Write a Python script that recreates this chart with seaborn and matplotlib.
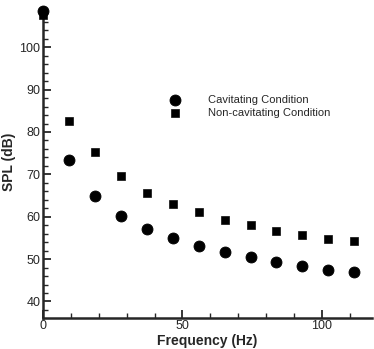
import pandas as pd
import matplotlib.pyplot as plt
import seaborn as sns
from matplotlib.ticker import MultipleLocator

freq = [0, 9.3, 18.6, 27.9, 37.2, 46.5, 55.8, 65.1, 74.4, 83.7, 93.0, 102.3, 111.6]
spl_cav = [108.5, 73.3, 64.8, 60.1, 57.1, 55.0, 53.2, 51.7, 50.6, 49.4, 48.3, 47.5, 46.9]
spl_noncav = [107.5, 82.5, 75.2, 69.5, 65.7, 63.0, 61.1, 59.3, 58.0, 56.7, 55.6, 54.7, 54.2]

df_cav = pd.DataFrame({'Frequency': freq, 'SPL': spl_cav})
df_non = pd.DataFrame({'Frequency': freq, 'SPL': spl_noncav})

sns.set_style('ticks')
plt.rcParams['font.family'] = ['Liberation Sans', 'DejaVu Sans']

fig = plt.figure(figsize=(3.74, 3.49), dpi=100)
ax = fig.add_axes([0.115, 0.09, 0.88, 0.89])

sns.scatterplot(data=df_cav, x='Frequency', y='SPL', marker='o', s=62,
                color='black', edgecolor='black', label='Cavitating Condition',
                ax=ax, zorder=3, clip_on=False)
sns.scatterplot(data=df_non, x='Frequency', y='SPL', marker='s', s=32,
                color='black', edgecolor='black', label='Non-cavitating Condition',
                ax=ax, zorder=3, clip_on=False)

ax.set_xlim(0, 118)
ax.set_ylim(36.2, 109.5)
ax.xaxis.set_major_locator(MultipleLocator(50))
ax.xaxis.set_minor_locator(MultipleLocator(10))
ax.yaxis.set_minor_locator(MultipleLocator(2))
ax.set_yticks([40, 50, 60, 70, 80, 90, 100])

sns.despine(ax=ax)
for sp in ['left', 'bottom']:
    ax.spines[sp].set_linewidth(1.8)
ax.tick_params(which='major', direction='in', length=6, width=1.3, labelsize=9, pad=2)
ax.tick_params(which='minor', direction='in', length=3.5, width=1.0)

ax.set_xlabel('Frequency (Hz)', fontsize=10, fontweight='bold', labelpad=1)
ax.set_ylabel('SPL (dB)', fontsize=10, fontweight='bold', labelpad=2)

ax.legend(loc='upper left', bbox_to_anchor=(0.355, 0.73), frameon=False, fontsize=8,
          handletextpad=1.9, labelspacing=0.2, borderaxespad=0)

fig.savefig('out.png', dpi=100)
